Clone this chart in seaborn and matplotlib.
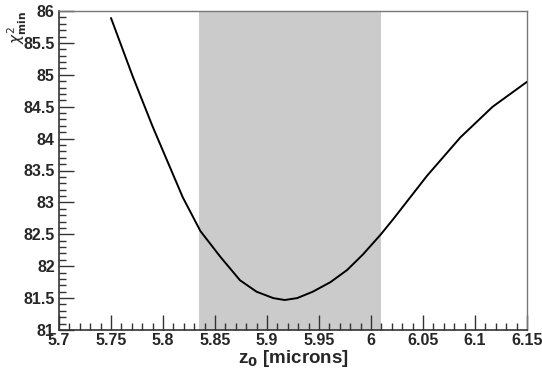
import matplotlib
matplotlib.use("Agg")
import matplotlib.pyplot as plt
import seaborn as sns
import pandas as pd
from matplotlib.ticker import MultipleLocator, FormatStrFormatter

# Data
z0 = [5.750, 5.771, 5.790, 5.819, 5.836, 5.855, 5.874, 5.890, 5.906, 5.917,
      5.929, 5.944, 5.961, 5.977, 5.992, 6.009, 6.021, 6.054, 6.086, 6.117, 6.150]
chi2 = [85.89, 84.97, 84.19, 83.08, 82.55, 82.15, 81.78, 81.60, 81.50, 81.47,
        81.50, 81.60, 81.75, 81.94, 82.18, 82.49, 82.73, 83.42, 84.02, 84.50, 84.89]
band_lo, band_hi = 5.835, 6.01
x_ticks = [5.7, 5.75, 5.8, 5.85, 5.9, 5.95, 6.0, 6.05, 6.1, 6.15]
y_ticks = [81, 81.5, 82, 82.5, 83, 83.5, 84, 84.5, 85, 85.5, 86]

sns.set_style("white")
plt.rcParams['font.family'] = ['Liberation Sans', 'DejaVu Sans']

df = pd.DataFrame({"z0": z0, "chi2": chi2})

fig = plt.figure(figsize=(5.42, 3.69), dpi=100)
ax = fig.add_axes([59/542, 1 - 330/369, 468/542, 319/369])

ax.axvspan(band_lo, band_hi, color="#cbcbcb", lw=0, zorder=0)
sns.lineplot(data=df, x="z0", y="chi2", ax=ax, color="black", lw=1.4, zorder=3)

ax.set_xlim(5.7, 6.15)
ax.set_ylim(81, 86)
ax.set_xticks(x_ticks)
ax.set_yticks(y_ticks)
ax.xaxis.set_major_formatter(FormatStrFormatter('%g'))
ax.yaxis.set_major_formatter(FormatStrFormatter('%g'))
ax.xaxis.set_minor_locator(MultipleLocator(0.01))
ax.yaxis.set_minor_locator(MultipleLocator(0.1))
ax.tick_params(axis='both', which='both', bottom=True, left=True, top=False, right=False)
ax.tick_params(axis='both', which='major', direction='in', length=11, width=1,
               color='#333333', labelsize=11.5)
ax.tick_params(axis='both', which='minor', direction='in', length=5, width=1,
               color='#333333')
ax.tick_params(axis='x', which='major', pad=2)
ax.tick_params(axis='y', which='major', pad=3)
for lab in ax.get_xticklabels() + ax.get_yticklabels():
    lab.set_fontweight('bold')

for side in ['left', 'bottom']:
    ax.spines[side].set_color('#333333')
    ax.spines[side].set_linewidth(1.2)
for side in ['top', 'right']:
    ax.spines[side].set_color('#777777')
    ax.spines[side].set_linewidth(1.0)

ax.set_xlabel(r"z$_{\mathbf{0}}$ [microns]", fontsize=13.5, fontweight='bold', labelpad=0)
ax.set_ylabel(r"$\chi^{2}_{\mathbf{min}}$", fontsize=11, loc='top')
ax.yaxis.set_label_coords(-0.065, 1.0)

fig.savefig("out.png", dpi=100)
